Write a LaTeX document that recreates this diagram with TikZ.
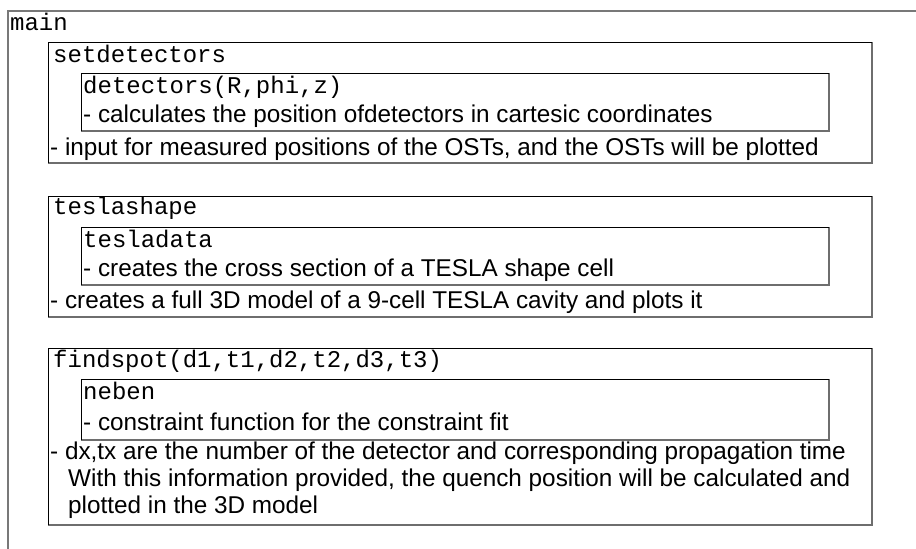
\documentclass[tikz,border=0pt]{standalone}
\usepackage{fontspec}
\setmainfont{Liberation Sans}
\setmonofont{Liberation Mono}
\definecolor{FrameGray}{RGB}{120,120,120}
\definecolor{ShadeGray}{RGB}{110,110,110}
\usetikzlibrary{positioning}

% one function box: black top/left edge, grey right/bottom edge
\newcommand{\fnbox}[4]{%
  \draw[ShadeGray, line width=1.6pt] (#3,#2) -- (#3,#4) -- (#1,#4);
  \draw[black, line width=1pt] (#1,#4) -- (#1,#2) -- (#3,#2);
}

\begin{document}
\begin{tikzpicture}[x=1pt, y=-1pt,
    code/.style={font=\fontsize{24}{27}\ttfamily\selectfont, anchor=base west, inner sep=0pt},
    desc/.style={font=\fontsize{24.3}{27}\selectfont, anchor=base west, inner sep=0pt}]
  \useasboundingbox[fill=white] (0,0) rectangle (916,549);
  % main frame (runs off the page)
  \draw[FrameGray, line width=1.2pt] (8,560) -- (8,11) -- (930,11);
  \node[code] (main) at (10,30) {main};
  % setdetectors
  \fnbox{48}{42}{872}{163}
  \node[code] (setdet) at (53,62) {setdetectors};
  \fnbox{81}{73}{829}{131}
  \node[code] (det) at (83,93) {detectors(R,phi,z)};
  \node[desc] (detdesc) at (83,122) {- calculates the position ofdetectors in cartesic coordinates};
  \node[desc] (setdesc) at (50,155) {- input for measured positions of the OSTs, and the OSTs will be plotted};
  % teslashape
  \fnbox{48}{196}{872}{317}
  \node[code] (tshape) at (53,214) {teslashape};
  \fnbox{81}{227}{829}{285}
  \node[code] (tdata) at (83,247) {tesladata};
  \node[desc] (tdatadesc) at (83,276) {- creates the cross section of a TESLA shape cell};
  \node[desc] (tshapedesc) at (50,308) {- creates a full 3D model of a 9-cell TESLA cavity and plots it};
  % findspot
  \fnbox{48}{348}{872}{525}
  \node[code] (fspot) at (53,367) {findspot(d1,t1,d2,t2,d3,t3)};
  \fnbox{81}{379}{829}{440}
  \node[code] (neben) at (83,399) {neben};
  \node[desc] (nebendesc) at (83,430) {- constraint function for the constraint fit};
  \node[desc] (fspot1) at (50,459) {- dx,tx are the number of the detector and corresponding propagation time};
  \node[desc] (fspot2) at (68,486) {With this information provided, the quench position will be calculated and};
  \node[desc] (fspot3) at (68,513) {plotted in the 3D model};
\end{tikzpicture}
\end{document}
